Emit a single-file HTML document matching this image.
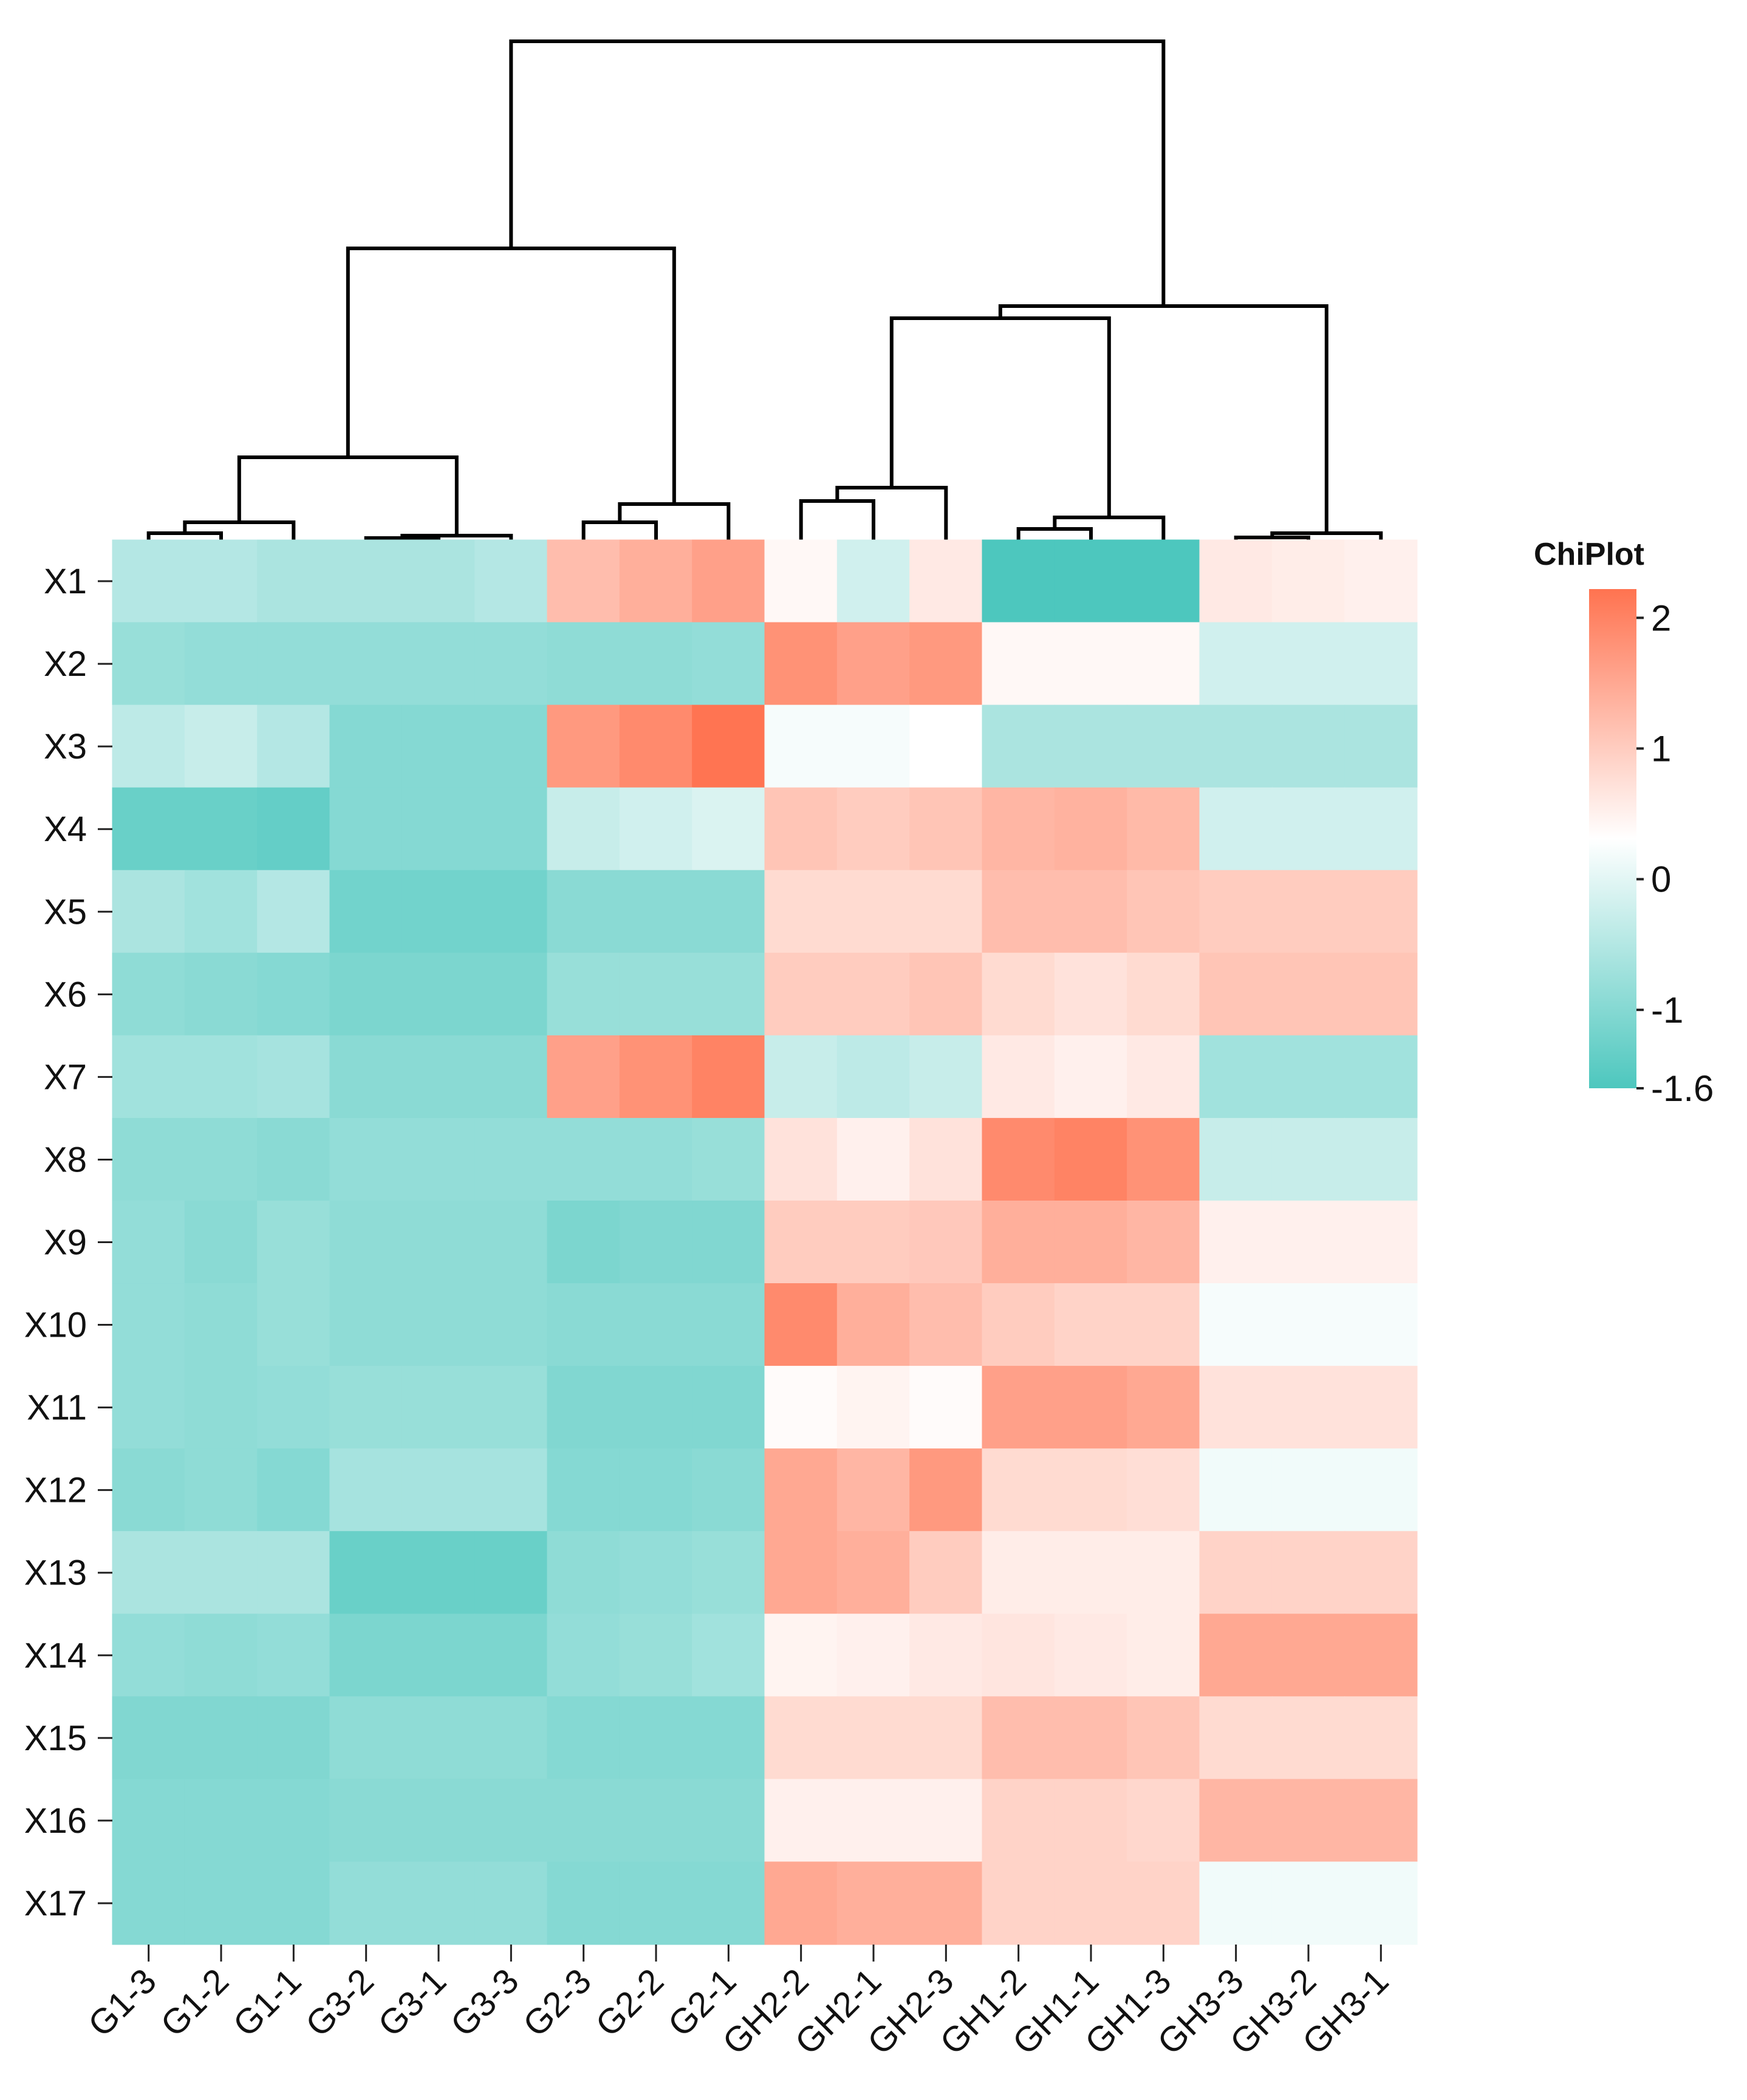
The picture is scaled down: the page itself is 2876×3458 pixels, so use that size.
<!DOCTYPE html>
<html><head><meta charset="utf-8"><style>
html,body{margin:0;padding:0;background:#fff;}
svg{display:block;font-family:"Liberation Sans",Arial,sans-serif;}
</style></head><body>
<svg id="chart" width="2876" height="3458" viewBox="0 0 2876 3458" xmlns="http://www.w3.org/2000/svg">
<defs>
<linearGradient id="cbar" x1="0" y1="1" x2="0" y2="0">
<stop offset="0" stop-color="#4dc7be"/>
<stop offset="0.5" stop-color="#ffffff"/>
<stop offset="1" stop-color="#ff7350"/>
</linearGradient>
</defs>
<g id="dendro"></g>
<g id="cells"></g>
<g id="rowaxis"></g>
<g id="colaxis"></g>
<g>
<text x="2616" y="930" text-anchor="middle" font-size="52" font-weight="bold" fill="#111">ChiPlot</text>
<rect x="2616" y="970" width="78" height="822" fill="url(#cbar)"/>
<g id="legticks"></g>
</g>
</svg>
<script>
const rows = ["X1","X2","X3","X4","X5","X6","X7","X8","X9","X10","X11","X12","X13","X14","X15","X16","X17"];
const cols = ["G1-3","G1-2","G1-1","G3-2","G3-1","G3-3","G2-3","G2-2","G2-1","GH2-2","GH2-1","GH2-3","GH1-2","GH1-1","GH1-3","GH3-3","GH3-2","GH3-1"];
const values = [
[-0.5,-0.5,-0.6,-0.6,-0.6,-0.5,1.2,1.4,1.6,0.4,-0.2,0.6,-1.6,-1.6,-1.6,0.6,0.55,0.5],
[-0.8,-0.85,-0.85,-0.85,-0.85,-0.85,-0.9,-0.9,-0.85,1.8,1.6,1.7,0.4,0.4,0.4,-0.2,-0.2,-0.2],
[-0.4,-0.3,-0.5,-1.0,-1.0,-1.0,1.7,1.9,2.2,0.2,0.2,0.3,-0.6,-0.6,-0.6,-0.6,-0.6,-0.6],
[-1.3,-1.3,-1.35,-1.0,-1.0,-1.0,-0.3,-0.2,-0.1,1.1,1.0,1.1,1.3,1.35,1.25,-0.2,-0.2,-0.2],
[-0.6,-0.7,-0.5,-1.2,-1.2,-1.2,-0.95,-0.95,-0.95,0.8,0.8,0.8,1.2,1.2,1.1,1.0,1.0,1.0],
[-0.9,-0.95,-1.0,-1.1,-1.1,-1.1,-0.8,-0.8,-0.8,1.0,1.0,1.1,0.8,0.7,0.8,1.1,1.1,1.1],
[-0.7,-0.7,-0.65,-0.95,-0.95,-0.95,1.6,1.8,2.0,-0.3,-0.4,-0.3,0.6,0.5,0.6,-0.7,-0.7,-0.7],
[-0.9,-0.9,-0.95,-0.85,-0.85,-0.85,-0.85,-0.85,-0.8,0.7,0.5,0.7,1.9,2.0,1.8,-0.3,-0.3,-0.3],
[-0.85,-0.95,-0.8,-0.9,-0.9,-0.9,-1.1,-1.05,-1.05,1.0,1.0,1.05,1.4,1.4,1.3,0.5,0.5,0.5],
[-0.85,-0.9,-0.8,-0.9,-0.9,-0.9,-0.95,-0.95,-0.95,1.9,1.4,1.2,1.0,0.9,0.9,0.2,0.2,0.2],
[-0.85,-0.9,-0.85,-0.8,-0.8,-0.8,-1.05,-1.05,-1.05,0.35,0.45,0.35,1.6,1.6,1.5,0.7,0.7,0.7],
[-0.95,-0.9,-1.0,-0.65,-0.65,-0.65,-1.0,-1.0,-0.95,1.5,1.3,1.7,0.8,0.8,0.75,0.15,0.15,0.15],
[-0.6,-0.6,-0.6,-1.3,-1.3,-1.3,-0.9,-0.85,-0.8,1.5,1.4,1.0,0.55,0.55,0.55,0.9,0.9,0.9],
[-0.85,-0.9,-0.85,-1.1,-1.1,-1.1,-0.85,-0.8,-0.7,0.45,0.5,0.6,0.65,0.6,0.55,1.5,1.5,1.5],
[-1.05,-1.05,-1.05,-0.9,-0.9,-0.9,-1.0,-1.0,-1.0,0.8,0.8,0.8,1.2,1.2,1.1,0.8,0.8,0.8],
[-1.0,-1.0,-1.0,-0.95,-0.95,-0.95,-0.95,-0.95,-0.95,0.5,0.5,0.5,0.9,0.9,0.85,1.3,1.3,1.3],
[-1.0,-1.0,-1.0,-0.85,-0.85,-0.85,-1.0,-1.0,-1.0,1.5,1.4,1.4,0.9,0.9,0.9,0.15,0.15,0.15]
];
const legendTicks = [2,1,0,-1,-1.6];
const legendTickLabels = ["2","1","0","-1","-1.6"];
// merges: [childA, childB, height]; leaves 0..17, merge nodes 18+
const mergeA = [0,18,3,20,19,6,23,22,9,26,12,28,27,15,31,30,25];
const mergeB = [1,2,4,5,21,7,8,24,10,11,13,14,29,16,17,32,33];
const mergeH = [11,29,3,7,136,29,59,480,64,86,18,37,365,4,11,385,821];

const NS="http://www.w3.org/2000/svg";
const L=185,R=2333,T=889,B=3202;
const cw=(R-L)/cols.length, rh=(B-T)/rows.length;
const vmin=-1.6,vmid=0.3,vmax=2.22;
const xPos=i=>L+cw*(i+0.5);
const yPos=j=>T+rh*(j+0.5);
const dendY=h=>T-h;
const legY=v=>1792-(v-vmin)/(vmax-vmin)*822;
function lerp(a,b,t){return Math.round(a+(b-a)*t);}
function color(v){
  let c1,c2,t;
  if(v<vmid){t=(v-vmin)/(vmid-vmin);c1=[77,199,190];c2=[255,255,255];}
  else{t=(v-vmid)/(vmax-vmid);c1=[255,255,255];c2=[255,115,80];}
  t=Math.max(0,Math.min(1,t));
  return `rgb(${lerp(c1[0],c2[0],t)},${lerp(c1[1],c2[1],t)},${lerp(c1[2],c2[2],t)})`;
}
function mk(tag,attrs,parent){const e=document.createElementNS(NS,tag);for(const k in attrs)e.setAttribute(k,attrs[k]);parent.appendChild(e);return e;}

const cells=document.getElementById('cells');
values.forEach((row,j)=>row.forEach((v,i)=>{
  const r=mk('rect',{x:L+cw*i-0.5,y:T+rh*j-0.5,width:cw+1,height:rh+1,fill:color(v)},cells);
  
  
}));

const ra=document.getElementById('rowaxis');
rows.forEach((n,j)=>{
  const y=yPos(j);
  const tk=mk('line',{x1:161,x2:185,y1:y,y2:y,stroke:'#222','stroke-width':3},ra);
  
  
  const t=mk('text',{x:143,y:y+20,'text-anchor':'end','font-size':58,fill:'#111'},ra);
  t.textContent=n;
  
  
});

const ca=document.getElementById('colaxis');
cols.forEach((n,i)=>{
  const x=xPos(i);
  const tk=mk('line',{x1:x,x2:x,y1:B,y2:B+28,stroke:'#222','stroke-width':3},ca);
  
  
  const t=mk('text',{x:x+16,y:B+64,'text-anchor':'end','font-size':58,fill:'#111',transform:`rotate(-45 ${x+16} ${B+64})`},ca);
  t.textContent=n;
  
  
});

const dg=document.getElementById('dendro');
const nx=cols.map((_,i)=>xPos(i)), ny=cols.map(()=>T);
mergeA.forEach((a,k)=>{
  const b=mergeB[k], y=dendY(mergeH[k]);
  const p=mk('path',{d:`M${nx[a]},${ny[a]}V${y}H${nx[b]}V${ny[b]}`,fill:'none',stroke:'#000','stroke-width':6,'stroke-linejoin':'miter'},dg);
  
  
  nx.push((nx[a]+nx[b])/2); ny.push(y);
});

const lt=document.getElementById('legticks');
legendTicks.forEach((v,k)=>{
  const y=legY(v);
  const tk=mk('line',{x1:2694,x2:2706,y1:y,y2:y,stroke:'#222','stroke-width':4},lt);
  
  
  const t=mk('text',{x:2718,y:y+21,'font-size':60,fill:'#111'},lt);
  t.textContent=legendTickLabels[k];
  
  
});
</script>
</body></html>
